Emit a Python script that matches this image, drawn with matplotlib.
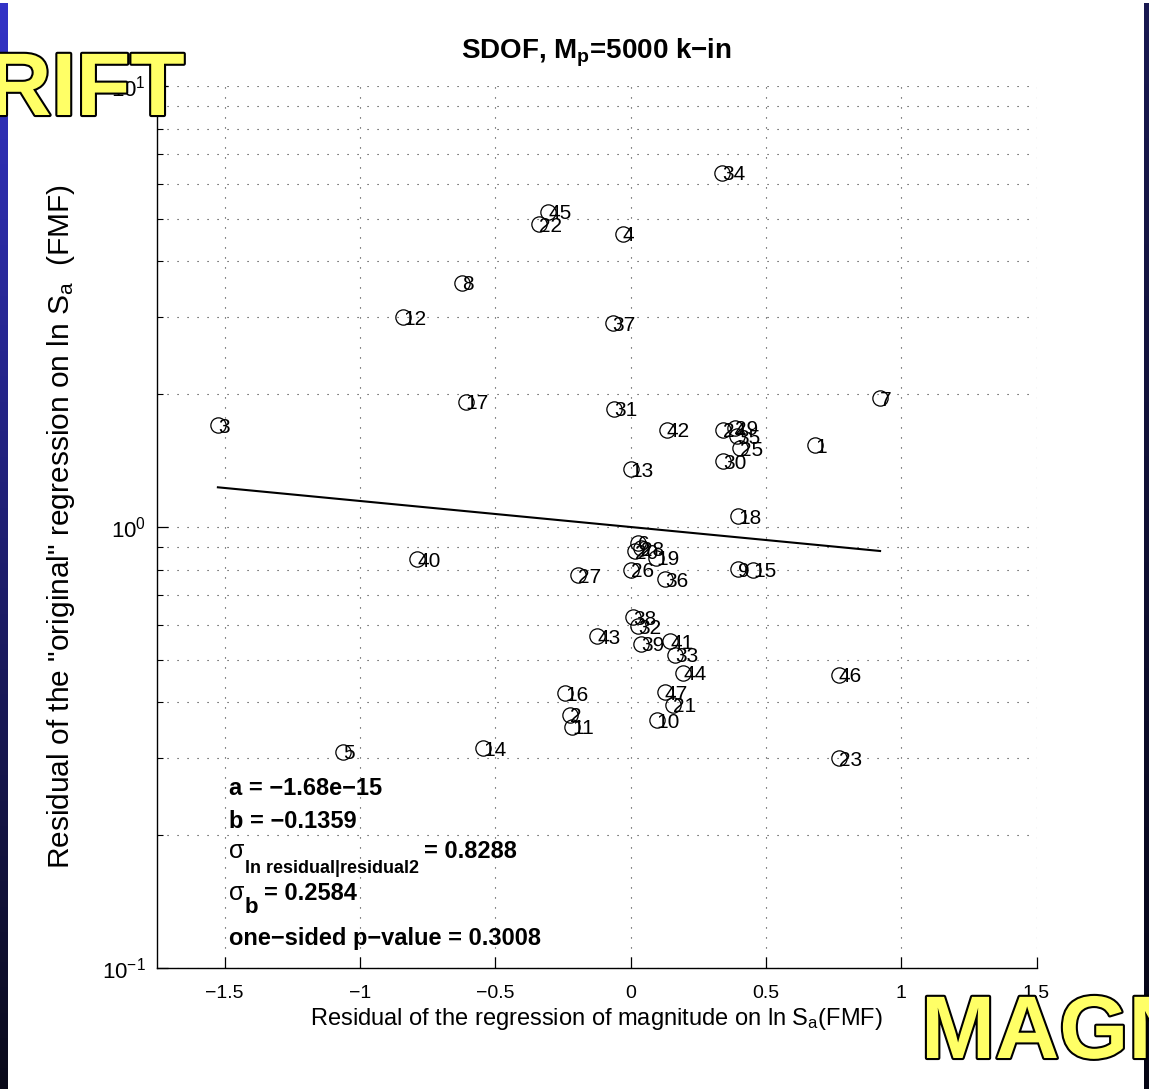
import numpy as np
import matplotlib
matplotlib.use("Agg")
import matplotlib.pyplot as plt
import matplotlib.patheffects as pe
from matplotlib.ticker import FixedLocator, LogLocator, NullFormatter

# residuals for each record: x = magnitude-regression residual, y = residual of ln Sa fit
rec_ids = [1, 2, 3, 4, 5, 6, 7, 8, 9, 10, 11, 12, 13, 14, 15, 16, 17, 18, 19, 20,
           21, 22, 23, 24, 25, 26, 27, 28, 29, 30, 31, 32, 33, 34, 35, 36, 37, 38,
           39, 40, 41, 42, 43, 44, 45, 46, 47]
resid_mag = [0.682, -0.224, -1.525, -0.028, -1.062, 0.029, 0.922, -0.623, 0.397, 0.097,
             -0.216, -0.841, 0.000, -0.545, 0.452, -0.242, -0.609, 0.397, 0.094, 0.015,
             0.157, -0.339, 0.770, 0.342, 0.405, 0.002, -0.194, 0.037, 0.386, 0.342,
             -0.061, 0.028, 0.164, 0.338, 0.393, 0.127, -0.066, 0.009, 0.039, -0.789,
             0.146, 0.134, -0.124, 0.194, -0.305, 0.770, 0.127]
resid_sa = [1.534, 0.375, 1.703, 4.62, 0.309, 0.920, 1.961, 3.58, 0.803, 0.365,
            0.352, 2.99, 1.353, 0.315, 0.799, 0.420, 1.923, 1.059, 0.851, 0.880,
            0.395, 4.86, 0.299, 1.66, 1.51, 0.799, 0.778, 0.895, 1.677, 1.411,
            1.852, 0.596, 0.513, 6.35, 1.607, 0.762, 2.90, 0.625, 0.543, 0.846,
            0.551, 1.66, 0.566, 0.467, 5.19, 0.462, 0.422]

# fit results
a_coef = -1.68e-15
b_coef = -0.1359
sigma_resid = 0.8288
sigma_b = 0.2584
p_value = 0.3008

xtick_vals = [-1.5, -1, -0.5, 0, 0.5, 1, 1.5]
xtick_text = ["\u22121.5", "\u22121", "\u22120.5", "0", "0.5", "1", "1.5"]

font = "Liberation Sans"
plt.rcParams["font.family"] = [font, "DejaVu Sans"]
plt.rcParams["mathtext.fontset"] = "custom"
plt.rcParams["mathtext.rm"] = font
plt.rcParams["mathtext.it"] = font + ":italic"
plt.rcParams["mathtext.bf"] = font + ":bold"

W, H = 1149, 1089
fig = plt.figure(figsize=(W / 100, H / 100), dpi=100)
fig.patch.set_facecolor("white")
ax = fig.add_axes([157 / W, 1 - 968 / H, 879.5 / W, 882 / H])

ax.set_yscale("log")
ax.set_xlim(-1.75, 1.5)
ax.set_ylim(0.1, 10)

ax.plot(resid_mag, resid_sa, "o", mfc="none", mec="k", ms=11, mew=0.9, zorder=3)
for rid, xv, yv in zip(rec_ids, resid_mag, resid_sa):
    ax.text(xv, yv, str(rid), fontsize=15, ha="left", va="center_baseline", zorder=4)

# regression line ln(y) = a + b*x over the data range
xl = np.array([min(resid_mag), max(resid_mag)])
ax.plot(xl, np.exp(a_coef + b_coef * xl), color="k", lw=1.5, zorder=2)

ax.xaxis.set_major_locator(FixedLocator(xtick_vals))
ax.set_xticklabels(xtick_text)
ax.yaxis.set_major_locator(LogLocator(base=10))
ax.yaxis.set_minor_locator(LogLocator(base=10, subs=np.arange(2, 10)))
ax.yaxis.set_minor_formatter(NullFormatter())

dots = (0, (1, 8))
ax.grid(True, which="major", axis="both", color="0.2", lw=0.8, linestyle=dots)
ax.grid(True, which="minor", axis="y", color="0.2", lw=0.8, linestyle=dots)

for s in ["top", "right"]:
    ax.spines[s].set_visible(False)
for s in ["left", "bottom"]:
    ax.spines[s].set_linewidth(1.0)
ax.tick_params(which="major", direction="in", length=8, width=0.9, labelsize=14)
ax.tick_params(which="minor", direction="in", length=4, width=0.8)
ax.tick_params(axis="x", pad=12)
ax.tick_params(axis="y", pad=8, labelsize=16)

ax.set_title("SDOF, M$_\\mathbf{p}$=5000 k\u2212in", fontsize=20, fontweight="bold", pad=20)
ax.set_xlabel("Residual of the regression of magnitude on ln S$_\\mathrm{a}$(FMF)",
              fontsize=17, labelpad=3)
ax.set_ylabel("Residual of the \"original\" regression on ln S$_\\mathrm{a}$  (FMF)",
              fontsize=21.5, labelpad=18)

# fit statistics
tx = -1.485
stat_kw = dict(fontsize=17, fontweight="bold", ha="left", va="baseline", zorder=5)
ax.text(tx, 0.2467, f"a = {a_coef:.3g}".replace("-", "\u2212"), **stat_kw)
ax.text(tx, 0.2077, f"b = {b_coef:.4f}".replace("-", "\u2212"), **stat_kw)
ax.text(tx, 0.1128, f"one\u2212sided p\u2212value = {p_value:.4f}", **stat_kw)


def sigma_line(y, sub, sub_size, drop, value):
    # sigma, a dropped subscript, then "= value" back on the main baseline
    s1 = ax.text(tx, y, "\u03c3", fontsize=18, ha="left", va="baseline", zorder=5)
    s2 = ax.annotate(sub, xy=(1, 0), xycoords=s1, xytext=(0.5, -drop),
                     textcoords="offset points", fontsize=sub_size, fontweight="bold",
                     ha="left", va="baseline", zorder=5)
    ax.annotate(f"= {value:.4f}", xy=(1, 0), xycoords=(s2, s1), xytext=(4, 3.8),
                textcoords="offset points", fontsize=17, fontweight="bold",
                ha="left", va="baseline", zorder=5)


sigma_line(0.1776, "ln residual|residual2", 13, 7.5, sigma_resid)
sigma_line(0.1426, "b", 16, 5.5, sigma_b)

# slide decorations: side bars and outlined heading words
def side_bar(x0, w, c_top, c_bot):
    bar = fig.add_axes([x0 / W, 0, w / W, (H - 3) / H])
    t = np.linspace(0, 1, 256)[:, None]
    grad = (1 - t) * np.array(c_top) + t * np.array(c_bot)
    bar.imshow(grad[:, None, :].repeat(2, axis=1), aspect="auto")
    bar.set_axis_off()
    bar.set_zorder(10)

side_bar(0, 8, (0.20, 0.20, 0.78), (0.04, 0.04, 0.10))
side_bar(1144, 5, (0.10, 0.10, 0.32), (0.02, 0.02, 0.08))

outline = [pe.withStroke(linewidth=3, foreground="black")]
fig.text(185 / W, 1 - 115 / H, "RIFT", fontsize=64, fontweight="bold", color="#ffff66",
         ha="right", va="baseline", path_effects=outline, zorder=20)
fig.text(921 / W, 1 - 1058 / H, "MAGN", fontsize=64, fontweight="bold", color="#ffff66",
         ha="left", va="baseline", path_effects=outline, zorder=20)

fig.savefig("out.png", dpi=100)
